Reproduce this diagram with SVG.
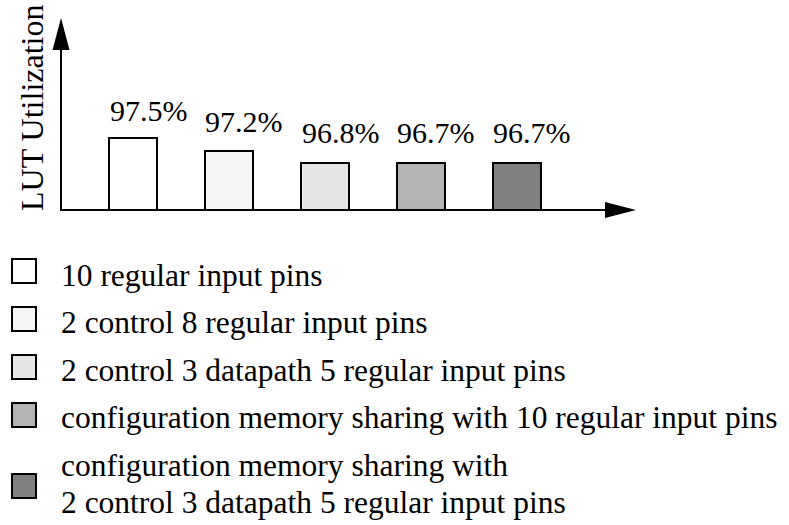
<svg xmlns="http://www.w3.org/2000/svg" width="789" height="525" viewBox="0 0 789 525">
<rect width="789" height="525" fill="#fff"/>
<g id="axes" stroke="#000" stroke-width="2">
<line x1="61" y1="211" x2="61" y2="48"/>
<polygon points="61,18 52.5,50 69.5,50" fill="#000" stroke="none"/>
<line x1="60" y1="210" x2="608" y2="210"/>
<polygon points="636,210 605,202 605,218" fill="#000" stroke="none"/>
</g>
<g font-family="'Liberation Serif', serif" fill="#000">
<text transform="translate(43,211) rotate(-90)" font-size="32">LUT Utilization</text>
<g font-size="30">
<g id="bar1"><rect stroke="#000" stroke-width="2" x="109" y="138" width="48" height="72" fill="#fff"/><text x="110" y="121">97.5%</text></g>
<g id="bar2"><rect stroke="#000" stroke-width="2" x="205" y="151" width="48" height="59" fill="#f5f5f5"/><text x="205" y="132">97.2%</text></g>
<g id="bar3"><rect stroke="#000" stroke-width="2" x="301" y="163" width="48" height="47" fill="#e6e6e6"/><text x="302" y="143">96.8%</text></g>
<g id="bar4"><rect stroke="#000" stroke-width="2" x="397" y="163" width="48" height="47" fill="#b3b3b3"/><text x="397" y="143">96.7%</text></g>
<g id="bar5"><rect stroke="#000" stroke-width="2" x="493" y="163" width="48" height="47" fill="#808080"/><text x="493" y="143">96.7%</text></g>
</g>
<g font-size="31.5">
<g id="legend1"><rect stroke="#000" stroke-width="2" x="12" y="259" width="24" height="24" fill="#fff"/><text x="61" y="286">10 regular input pins</text></g>
<g id="legend2"><rect stroke="#000" stroke-width="2" x="12" y="307" width="24" height="24" fill="#f5f5f5"/><text x="61" y="333">2 control 8 regular input pins</text></g>
<g id="legend3"><rect stroke="#000" stroke-width="2" x="12" y="355" width="24" height="24" fill="#e6e6e6"/><text x="61" y="381">2 control 3 datapath 5 regular input pins</text></g>
<g id="legend4"><rect stroke="#000" stroke-width="2" x="12" y="403" width="24" height="24" fill="#b3b3b3"/><text x="61" y="428">configuration memory sharing with 10 regular input pins</text></g>
<g id="legend5"><rect stroke="#000" stroke-width="2" x="12" y="474" width="24" height="24" fill="#808080"/><text x="61" y="476">configuration memory sharing with</text><text x="61" y="513">2 control 3 datapath 5 regular input pins</text></g>
</g>
</g>
</svg>
